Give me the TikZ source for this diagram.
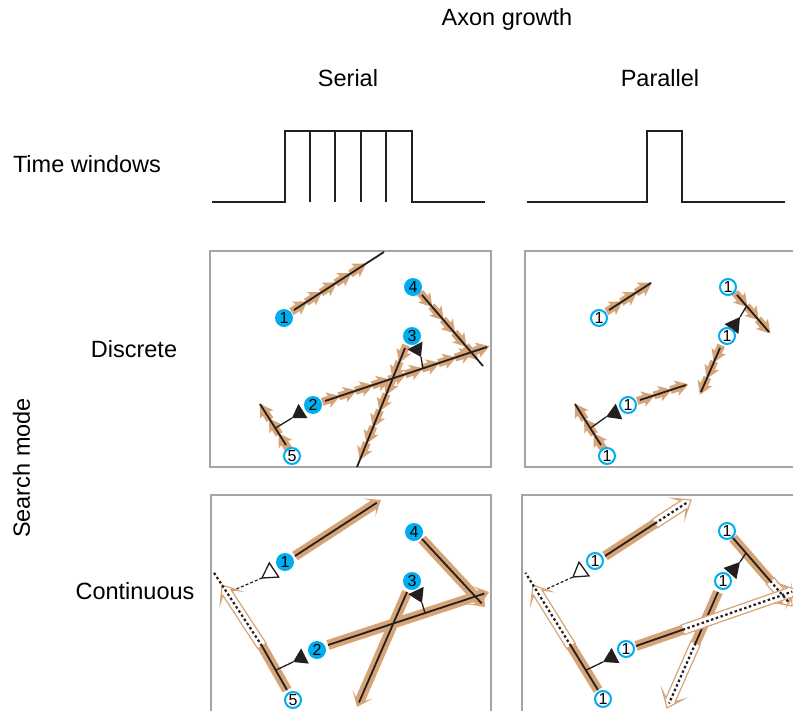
\documentclass[tikz,border=0pt]{standalone}
\usepackage{fontspec}
\setmainfont{Liberation Sans}
\usetikzlibrary{calc}

\definecolor{axtan}{RGB}{214,164,118}
\definecolor{axblue}{RGB}{0,174,239}
\definecolor{framegray}{RGB}{165,165,165}
\definecolor{ink}{RGB}{35,31,32}

% growth-cone arrowhead: tip at #2, base centred at #3
\newcommand\conetip[3][fill=ink]{%
  \path[#1] (#2) -- ($(#3)!8.5pt!90:(#2)$) -- ($(#3)!8.5pt!-90:(#2)$) -- cycle;}

% broad band from #2 ending in an arrowhead at #3
\newcommand\bandhead[3][]{%
  \coordinate (bhB) at ($(#3)!9pt!(#2)$);
  \coordinate (bhW) at ($(#3)!14pt!(#2)$);
  \path[#1] ($(#2)!5pt!90:(#3)$) -- ($(bhB)!5pt!-90:(#2)$) -- ($(bhW)!11pt!-90:(#2)$)
    -- (#3) -- ($(bhW)!11pt!90:(#2)$) -- ($(bhB)!5pt!90:(#2)$) -- ($(#2)!5pt!-90:(#3)$) -- cycle;}

% row of #4 step arrows along #1 -> #2, the first one centred #3 pt from #1
\newcommand\chevs[4]{%
  \path let \p1=($(#2)-(#1)$), \n1={atan2(\y1,\x1)} in \pgfextra{\xdef\chang{\n1}};
  \begin{scope}[shift={(#1)}, rotate=\chang]
    \foreach \k in {1,...,#4} {%
      \pgfmathsetmacro\cc{#3+17.5*(\k-1)}%
      \fill[axtan, xshift=\cc pt] (6pt,0pt) -- (-7pt,8pt) -- (-5.5pt,4pt) -- (-13pt,4pt)
        -- (-13pt,-4pt) -- (-5.5pt,-4pt) -- (-7pt,-8pt) -- cycle;
    }
  \end{scope}}

\tikzset{
  lab/.style={font=\fontsize{23.5}{28}\selectfont, inner sep=0pt},
  numc/.style={circle, fill=axblue, minimum size=18pt, inner sep=0pt, font=\fontsize{16}{16}\selectfont},
  numo/.style={circle, draw=axblue, fill=white, line width=2pt, minimum size=16pt, inner sep=0pt, font=\fontsize{16}{16}\selectfont},
  panel/.style={draw=framegray, line width=1.2pt},
  wave/.style={draw=ink, line width=1.8pt},
  axon/.style={draw=ink, line width=1.8pt},
  stem/.style={draw=ink, line width=1.3pt},
  dashstem/.style={draw=ink, line width=1.2pt, dash pattern=on 3pt off 2pt},
  dotline/.style={draw=ink, line width=2.2pt, dash pattern=on 2.5pt off 2.5pt},
  openband/.style={fill=white, draw=axtan, line width=1.2pt},
  solidband/.style={draw=axtan, line width=10pt}
}

\begin{document}
\begin{tikzpicture}[x=1pt,y=-1pt]
\useasboundingbox (0,0) rectangle (793,710);
\clip (0,0) rectangle (793,710);

% ---------- headings ----------
\node[lab, anchor=base] (title) at (507,25) {Axon growth};
\node[lab, anchor=base] (serial) at (348,86) {Serial};
\node[lab, anchor=base] (parallel) at (660,86) {Parallel};
\node[lab, anchor=base] (timewin) at (87,172) {Time windows};
\node[lab, anchor=base] (discrete) at (134,357) {Discrete};
\node[lab, anchor=base] (continuous) at (135,599) {Continuous};
\node[lab, anchor=base, rotate=90] (searchmode) at (30,468) {Search mode};

% ---------- time windows ----------
\draw[wave] (212,202) -- (285,202) -- (285,131) -- (412,131) -- (412,202) -- (485,202);
\foreach \xw in {310,335,361,386} \draw[wave] (\xw,131) -- (\xw,202);
\draw[wave] (527,202) -- (647,202) -- (647,131) -- (682,131) -- (682,202) -- (785,202);

% ---------- panel frames ----------
\draw[panel] (210,251) rectangle (491,467);
\draw[panel] (525,251) rectangle (800,467);
\draw[panel] (211,495) rectangle (491,720);
\draw[panel] (522,495) rectangle (800,720);

% ================= serial, discrete =================
\coordinate (sd1s) at (294,310); \coordinate (sd1e) at (384,252);
\coordinate (sd4s) at (422,295); \coordinate (sd4e) at (483,366);
\coordinate (sd3s) at (405,348); \coordinate (sd3e) at (357,467);
\coordinate (sd2s) at (325,401); \coordinate (sd2e) at (487,347);
\coordinate (sd5s) at (286,445); \coordinate (sd5e) at (260,404);
\chevs{sd1s}{sd1e}{10}{5}
\chevs{sd4s}{sd4e}{10}{5}
\chevs{sd3s}{sd3e}{10}{7}
\chevs{sd2s}{sd2e}{10}{10}
\chevs{sd5s}{sd5e}{8}{3}
\foreach \a in {1,2,3,4,5} \draw[axon] (sd\a s) -- (sd\a e);
\coordinate (sdp2) at ($(sd5s)!0.41!(sd5e)$);
\coordinate (sdq2) at (292,418); \coordinate (sdb2) at (303,411);
\coordinate (sdp3) at ($(sd2s)!0.605!(sd2e)$);
\coordinate (sdq3) at (421,357); \coordinate (sdb3) at (415,345.5);
\draw[stem] (sdp2) -- (sdq2); \conetip{sdq2}{sdb2};
\draw[stem] (sdp3) -- (sdq3); \conetip{sdq3}{sdb3};
\node[numc] (sdc1) at (284,318) {1};
\node[numc] (sdc2) at (313,405) {2};
\node[numc] (sdc3) at (412,336) {3};
\node[numc] (sdc4) at (413,287) {4};
\node[numo] (sdc5) at (292,456) {5};

% ================= parallel, discrete =================
\coordinate (pd1s) at (609,310); \coordinate (pd1e) at (651,283);
\coordinate (pd4s) at (737,295); \coordinate (pd4e) at (769,332);
\coordinate (pd3s) at (720,348); \coordinate (pd3e) at (701,392);
\coordinate (pd2s) at (640,400); \coordinate (pd2e) at (686,385);
\coordinate (pd5s) at (601,445); \coordinate (pd5e) at (575,404);
\chevs{pd1s}{pd1e}{10}{3}
\chevs{pd4s}{pd4e}{10}{3}
\chevs{pd3s}{pd3e}{10}{3}
\chevs{pd2s}{pd2e}{10}{3}
\chevs{pd5s}{pd5e}{8}{3}
\foreach \a in {1,2,3,4,5} \draw[axon] (pd\a s) -- (pd\a e);
\coordinate (pdp2) at ($(pd5s)!0.41!(pd5e)$);
\coordinate (pdq2) at (606,417); \coordinate (pdb2) at (619,411.5);
\coordinate (pdp3) at ($(pd4s)!0.3!(pd4e)$);
\coordinate (pdq3) at (740,317); \coordinate (pdb3) at (731.5,329);
\draw[stem] (pdp2) -- (pdq2); \conetip{pdq2}{pdb2};
\draw[stem] (pdp3) -- (pdq3); \conetip{pdq3}{pdb3};
\node[numo] (pdc1) at (599,318) {1};
\node[numo] (pdc2) at (628,405) {1};
\node[numo] (pdc3) at (727,336) {1};
\node[numo] (pdc4) at (728,287) {1};
\node[numo] (pdc5) at (607,456) {1};

% ================= serial, continuous =================
\coordinate (sc1s) at (295,556); \coordinate (sc1e) at (381,500);
\coordinate (sc4s) at (422,539); \coordinate (sc4e) at (485,607);
\coordinate (sc3s) at (407,592); \coordinate (sc3e) at (357,707);
\coordinate (sc2s) at (328,645); \coordinate (sc2e) at (489,592);
\coordinate (sc5s) at (287,690); \coordinate (sc5m) at (262,646); \coordinate (sc5e) at (222,585);
\coordinate (scpo) at ($(sc5m)!0.87!(sc5e)$);
\coordinate (scqo) at (262,578); \coordinate (scbo) at (274,570);
\draw[dashstem] (scpo) -- (scqo);
\foreach \a in {1,2,3,4} {\bandhead[fill=axtan]{sc\a s}{sc\a e}}
\draw[solidband] (sc5s) -- (sc5m);
\bandhead[openband]{sc5m}{sc5e}
\foreach \a in {1,2,3,4} \draw[axon] (sc\a s) -- ($(sc\a e)!5pt!(sc\a s)$);
\draw[axon] (sc5s) -- (sc5m);
\draw[dotline] (sc5m) -- ($(sc5m)!1.2!(sc5e)$);
\conetip[fill=white, draw=ink, line width=1.3pt]{scqo}{scbo}
\coordinate (scp2) at ($(sc5s)!0.45!(sc5m)$);
\coordinate (scq2) at (293,662); \coordinate (scb2) at (305,656);
\coordinate (scp3) at ($(sc2s)!0.6025!(sc2e)$);
\coordinate (scq3) at (422,603); \coordinate (scb3) at (416,590.5);
\draw[stem] (scp2) -- (scq2); \conetip{scq2}{scb2};
\draw[stem] (scp3) -- (scq3); \conetip{scq3}{scb3};
\node[numc] (scc1) at (285,562) {1};
\node[numc] (scc2) at (317,650) {2};
\node[numc] (scc3) at (412,581) {3};
\node[numc] (scc4) at (414,532) {4};
\node[numo] (scc5) at (293,700) {5};

% ================= parallel, continuous =================
\coordinate (pc1s) at (605,556); \coordinate (pc1e) at (691,500);
\coordinate (pc1m) at ($(pc1s)!0.58!(pc1e)$);
\coordinate (pc4s) at (733,538); \coordinate (pc4e) at (792,606);
\coordinate (pc4m) at ($(pc4s)!0.63!(pc4e)$);
\coordinate (pc3s) at (718,592); \coordinate (pc3e) at (667,708);
\coordinate (pc3m) at ($(pc3s)!0.44!(pc3e)$);
\coordinate (pc2s) at (636,646); \coordinate (pc2e) at (797,590);
\coordinate (pc2m) at ($(pc2s)!0.29!(pc2e)$);
\coordinate (pc5s) at (598,690); \coordinate (pc5m) at (571,646); \coordinate (pc5e) at (533,585);
\coordinate (pcpo) at ($(pc5m)!0.87!(pc5e)$);
\coordinate (pcqo) at (573,577); \coordinate (pcbo) at (584,569);
\draw[dashstem] (pcpo) -- (pcqo);
\foreach \a in {3,4,1,5,2} {
  \draw[solidband] (pc\a s) -- (pc\a m);
  \bandhead[openband]{pc\a m}{pc\a e}
  \draw[axon] (pc\a s) -- (pc\a m);
}
\foreach \a in {3,4,1,2} \draw[dotline] (pc\a m) -- ($(pc\a e)!5pt!(pc\a m)$);
\draw[dotline] (pc5m) -- ($(pc5m)!1.2!(pc5e)$);
\conetip[fill=white, draw=ink, line width=1.3pt]{pcqo}{pcbo}
\coordinate (pcp2) at ($(pc5s)!0.45!(pc5m)$);
\coordinate (pcq2) at (603,662); \coordinate (pcb2) at (615.5,655.5);
\coordinate (pcp3) at ($(pc4s)!0.22!(pc4e)$);
\coordinate (pcq3) at (740,562); \coordinate (pcb3) at (730,573.5);
\draw[stem] (pcp2) -- (pcq2); \conetip{pcq2}{pcb2};
\draw[stem] (pcp3) -- (pcq3); \conetip{pcq3}{pcb3};
\node[numo] (pcc1) at (595,561) {1};
\node[numo] (pcc2) at (626,649) {1};
\node[numo] (pcc3) at (723,581) {1};
\node[numo] (pcc4) at (727,531) {1};
\node[numo] (pcc5) at (603,699) {1};
\end{tikzpicture}
\end{document}
